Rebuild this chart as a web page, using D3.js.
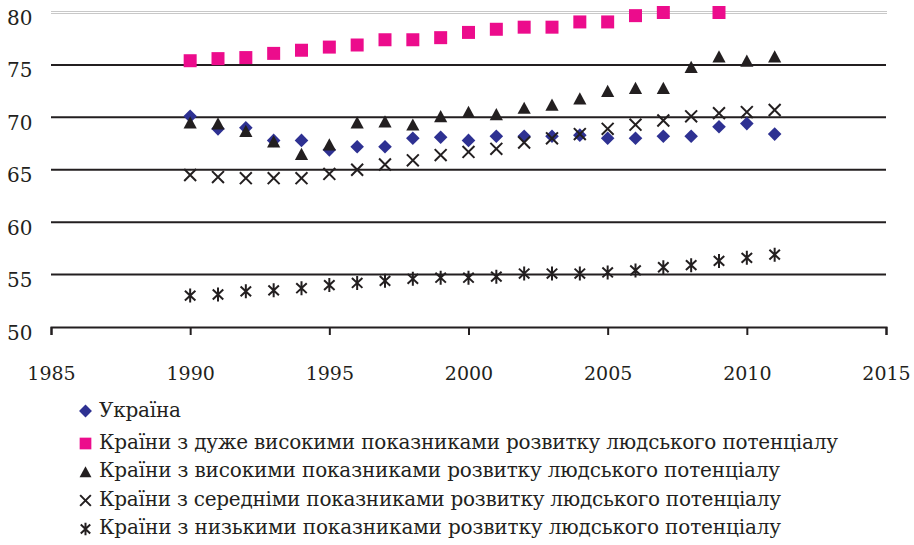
<!DOCTYPE html>
<html lang="uk">
<head>
	<meta charset="UTF-8">
	<title>Тривалість життя</title>
	<script src="https://cdn.jsdelivr.net/npm/d3@7"></script>
	<style>
		body { margin: 0; background: #fff; }
		svg { display: block; font-family: "DejaVu Serif", serif; }
	</style>
</head>
<body>

	<div class="box"></div>

	<script type="text/javascript">
		// data
		let years = [1990, 1991, 1992, 1993, 1994, 1995, 1996, 1997, 1998, 1999, 2000,
			2001, 2002, 2003, 2004, 2005, 2006, 2007, 2008, 2009, 2010, 2011]
		let ukraine = [70.1, 68.9, 69.0, 67.8, 67.8, 66.9, 67.2, 67.2, 68.0, 68.1, 67.8,
			68.2, 68.2, 68.2, 68.3, 68.0, 68.0, 68.2, 68.2, 69.1, 69.4, 68.4]
		let veryHigh = [75.4, 75.6, 75.7, 76.1, 76.4, 76.7, 76.9, 77.4, 77.4, 77.6, 78.1,
			78.4, 78.6, 78.6, 79.1, 79.1, 79.7, 80.0, null, 80.0, null, null]
		let high = [69.5, 69.4, 68.7, 67.7, 66.5, 67.4, 69.5, 69.6, 69.3, 70.1, 70.5,
			70.3, 70.9, 71.2, 71.8, 72.5, 72.8, 72.8, 74.8, 75.8, 75.4, 75.8]
		let medium = [64.5, 64.3, 64.2, 64.2, 64.2, 64.6, 65.0, 65.5, 65.9, 66.4, 66.7,
			67.0, 67.6, 68.0, 68.4, 68.9, 69.3, 69.7, 70.1, 70.4, 70.5, 70.7]
		let low = [53.0, 53.1, 53.4, 53.5, 53.7, 54.0, 54.2, 54.4, 54.6, 54.7, 54.7,
			54.8, 55.1, 55.1, 55.1, 55.2, 55.4, 55.7, 55.9, 56.3, 56.6, 56.9]
		let names = [
			'Україна',
			'Країни з дуже високими показниками розвитку людського потенціалу',
			'Країни з високими показниками розвитку людського потенціалу',
			'Країни з середніми показниками розвитку людського потенціалу',
			'Країни з низькими показниками розвитку людського потенціалу'
		]
		let xTicks = [1985, 1990, 1995, 2000, 2005, 2010, 2015]
		let yTicks = [50, 55, 60, 65, 70, 75, 80]

		let width = 914
		let height = 545
		let ink = '#231f20'
		let svg = d3.select('.box').append('svg').attr('width', width).attr('height', height)

		let x = d3.scaleLinear().domain([1985, 2015]).range([51, 886])
		let y = d3.scaleLinear().domain([50, 80]).range([327, 12.5])

		// marker shapes, drawn round 0,0
		let shapes = {
			diamond: s => `M0,${-s}L${s},0L0,${s}L${-s},0Z`,
			square: s => `M${-s},${-s}H${s}V${s}H${-s}Z`,
			triangle: s => `M0,${-s * 0.95}L${s},${s * 0.9}H${-s}Z`,
			cross: s => `M${-s * 0.85},${-s * 0.85}L${s * 0.85},${s * 0.85}M${s * 0.85},${-s * 0.85}L${-s * 0.85},${s * 0.85}`,
			star: s => `M${-s * 0.75},${-s * 0.7}L${s * 0.75},${s * 0.7}M${s * 0.75},${-s * 0.7}L${-s * 0.75},${s * 0.7}M0,${-s}V${s}`
		}

		let series = [
			{ values: ukraine, shape: 'diamond', size: 6.8, fill: '#2e3192', stroke: null },
			{ values: veryHigh, shape: 'square', size: 6.5, fill: '#ec0c8c', stroke: null },
			{ values: high, shape: 'triangle', size: 6.6, fill: ink, stroke: null },
			{ values: medium, shape: 'cross', size: 7, fill: 'none', stroke: ink },
			{ values: low, shape: 'star', size: 7, fill: 'none', stroke: ink }
		]

		// grid
		svg.selectAll('.grid').data(yTicks.filter(v => v > 50 && v < 80))
			.enter().append('line')
			.attr('class', 'grid')
			.attr('x1', x(1985)).attr('x2', x(2015))
			.attr('y1', d => y(d)).attr('y2', d => y(d))
			.attr('stroke', ink).attr('stroke-width', 2)

		// top border: light double line
		svg.selectAll('.top').data([-1, 1])
			.enter().append('line')
			.attr('class', 'top')
			.attr('x1', x(1985)).attr('x2', x(2015) + 1)
			.attr('y1', d => y(80) + d).attr('y2', d => y(80) + d)
			.attr('stroke', '#c8c8c8').attr('stroke-width', 1)

		// y axis
		let yAxis = svg.append('g')
			.attr('transform', `translate(${x(1985)},0)`)
			.call(d3.axisLeft(y).tickValues(yTicks).tickSize(0).tickPadding(18.5))
		yAxis.select('.domain').remove()
		yAxis.selectAll('text')
			.attr('dy', '0.6em')
			.attr('fill', ink)
			.style('font-family', '"DejaVu Serif", serif')
			.style('font-size', '20px')

		// x axis
		let xAxis = svg.append('g')
			.attr('transform', `translate(0,${y(50)})`)
			.call(d3.axisBottom(x).tickValues(xTicks).tickFormat(d3.format('d'))
				.tickSize(8).tickSizeOuter(8).tickPadding(31.5))
		xAxis.selectAll('.domain, .tick line').attr('stroke', ink).attr('stroke-width', 2)
		xAxis.selectAll('text')
			.attr('fill', ink)
			.style('font-family', '"DejaVu Serif", serif')
			.style('font-size', '19px')

		// points
		series.forEach(s => {
			let pts = years.map((yr, i) => ({ yr: yr, v: s.values[i] })).filter(d => d.v != null)
			svg.append('g').selectAll('path').data(pts)
				.enter().append('path')
				.attr('transform', d => `translate(${x(d.yr)},${y(d.v)})`)
				.attr('d', shapes[s.shape](s.size))
				.attr('fill', s.fill)
				.attr('stroke', s.stroke || 'none')
				.attr('stroke-width', 2)
		})

		// legend
		let legendWidths = [82, 739, 681, 682, 682]
		let legend = svg.selectAll('.legend').data(series)
			.enter().append('g')
			.attr('class', 'legend')
			.attr('transform', (d, i) => `translate(0,${i === 0 ? 416.5 : 448.5 + (i - 1) * 28.5})`)
		legend.append('path')
			.attr('transform', (d, i) => `translate(85.5,${i === 0 ? -5.5 : -5})`)
			.attr('d', d => shapes[d.shape](d.size * (d.shape === 'diamond' ? 0.95 : 0.9)))
			.attr('fill', d => d.fill)
			.attr('stroke', d => d.stroke || 'none')
			.attr('stroke-width', 2)
		legend.append('text')
			.attr('x', 99)
			.attr('fill', ink)
			.style('font-size', '20px')
			.attr('textLength', (d, i) => legendWidths[i])
			.attr('lengthAdjust', 'spacing')
			.text((d, i) => names[i])
	</script>
</body>
</html>
